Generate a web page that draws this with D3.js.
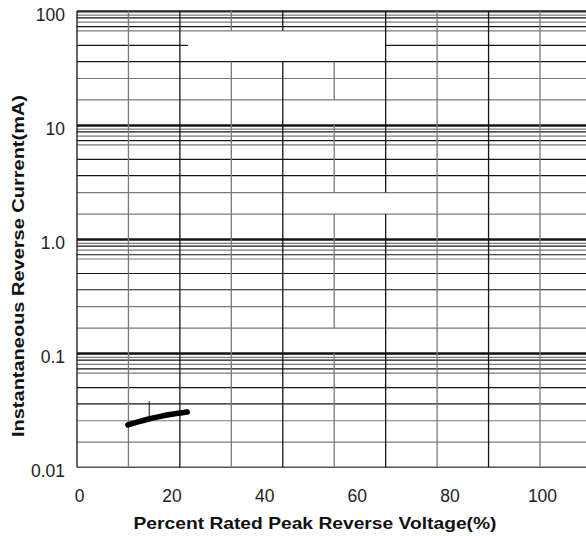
<!DOCTYPE html>
<html>
<head>
<meta charset="utf-8">
<script src="https://cdn.jsdelivr.net/npm/d3@7"></script>
<style>
  html, body { margin: 0; padding: 0; background: #fff; }
  svg { display: block; }
</style>
</head>
<body>
<svg id="chart" width="586" height="536"></svg>
<script>
// ---- data ----
const xTickValues = [0, 20, 40, 60, 80, 100];
const yTickValues = [100, 10, 1, 0.1, 0.01];
const yTickLabels = ["100", "10", "1.0", "0.1", "0.01"];
const decades = [0.01, 0.1, 1, 10, 100];
const minorMultipliers = [1.66, 2.56, 3.6, 5.0, 6.7, 7.3, 8.0, 8.7, 9.2, 9.8];
const verticalGridCount = 10;            // columns of the chart grid (0..100 split in 9)
const curveX = [11.0, 13.2, 15.5, 17.8, 20.1, 22.0, 23.8];
const curveY = [0.0235, 0.0250, 0.0265, 0.0278, 0.0290, 0.0298, 0.0305];
const markerX = [15.6];
const markerTop = [0.038];
const markerBottom = [0.0265];
// missing pieces of the printed grid (scan artefacts), in data units
const verticalGaps = [
  { k: 3, from: 36, to: 67 },
  { k: 4, from: 36, to: 67 },
  { k: 5, from: 36, to: 100 },
  { k: 5, from: 10, to: 16.6 },
  { k: 5, from: 1.66, to: 2.56 },
  { k: 6, from: 1.66, to: 2.56 },
  { k: 5, from: 0.1, to: 0.166 }
];
const horizontalGaps = [
  { v: 50, from: 24, to: 66.67 }
];
const xTitle = "Percent Rated Peak Reverse Voltage(%)";
const yTitle = "Instantaneous Reverse Current(mA)";

// ---- scales ----
const svg = d3.select("#chart");
const W = 586;
const x = d3.scaleLinear().domain([0, 100]).range([77, 540]);
const y = d3.scaleLog().domain([0.01, 100]).range([467.3, 11]);
const xMax = x.invert(W + 2);

const BLACK = "#151515", GRAY = "#7a7a7a";
const minorShade = [GRAY, GRAY, BLACK, BLACK, GRAY, BLACK, GRAY, BLACK, GRAY, BLACK];

const grid = svg.append("g").attr("class", "grid");

function segments(lo, hi, gaps) {
  let segs = [[lo, hi]];
  gaps.forEach(g => {
    const out = [];
    segs.forEach(([a, b]) => {
      if (g.to <= a || g.from >= b) { out.push([a, b]); return; }
      if (g.from > a) out.push([a, g.from]);
      if (g.to < b) out.push([g.to, b]);
    });
    segs = out;
  });
  return segs;
}

// horizontal lines
const hLines = [];
decades.forEach((d, i) => {
  hLines.push({ v: d, major: true, color: (d === 0.01 ? "#555" : BLACK) });
  if (i < decades.length - 1) {
    minorMultipliers.forEach((m, j) => hLines.push({ v: d * m, major: false, color: minorShade[j] }));
  }
});
hLines.forEach(h => {
  const gaps = horizontalGaps.filter(g => Math.abs(g.v - h.v) < 1e-9);
  segments(0, xMax, gaps).forEach(([a, b]) => {
    grid.append("line")
      .attr("x1", x(a)).attr("x2", x(b))
      .attr("y1", y(h.v)).attr("y2", y(h.v))
      .attr("stroke", h.color)
      .attr("stroke-width", h.major ? (h.v === 100 || h.v === 0.01 ? 1.4 : 1.8) : 1.2);
  });
});

// vertical lines
d3.range(verticalGridCount).forEach(k => {
  const xv = k * 100 / 9;
  const gaps = verticalGaps.filter(g => g.k === k);
  segments(0.01, 100, gaps).forEach(([a, b]) => {
    grid.append("line")
      .attr("x1", x(xv)).attr("x2", x(xv))
      .attr("y1", y(a)).attr("y2", y(b))
      .attr("stroke", k % 2 === 0 ? BLACK : GRAY)
      .attr("stroke-width", 1.3);
  });
});

// marker tick
markerX.forEach((mx, i) => {
  svg.append("line")
    .attr("x1", x(mx)).attr("x2", x(mx))
    .attr("y1", y(markerTop[i])).attr("y2", y(markerBottom[i]))
    .attr("stroke", BLACK).attr("stroke-width", 1);
});

// curve
const pts = curveX.map((v, i) => [v, curveY[i]]);
svg.append("path")
  .datum(pts)
  .attr("fill", "none")
  .attr("stroke", "#000")
  .attr("stroke-width", 5.5)
  .attr("stroke-linecap", "round")
  .attr("d", d3.line().x(d => x(d[0])).y(d => y(d[1])).curve(d3.curveMonotoneX));

// tick labels
const tickFont = "'Liberation Sans', Arial, sans-serif";
svg.append("g").selectAll("text")
  .data(xTickValues).join("text")
  .attr("x", d => x(d) + 2.5)
  .attr("y", 501.5)
  .attr("text-anchor", "middle")
  .attr("font-family", tickFont)
  .attr("font-size", 17.5)
  .attr("fill", "#222")
  .text(d => d);

svg.append("g").selectAll("text")
  .data(yTickValues).join("text")
  .attr("x", 65)
  .attr("y", d => y(d) + 9.5)
  .attr("text-anchor", "end")
  .attr("font-family", tickFont)
  .attr("font-size", 17.5)
  .attr("fill", "#222")
  .text((d, i) => yTickLabels[i]);

// axis titles
svg.append("text")
  .attr("x", 315).attr("y", 529)
  .attr("text-anchor", "middle")
  .attr("font-family", "'Liberation Sans', Arial, sans-serif")
  .attr("font-weight", "bold")
  .attr("font-size", 16.5)
  .attr("textLength", 363)
  .attr("lengthAdjust", "spacingAndGlyphs")
  .attr("fill", "#111")
  .text(xTitle);

svg.append("text")
  .attr("transform", "translate(23.5,266) rotate(-90)")
  .attr("text-anchor", "middle")
  .attr("font-family", "'Liberation Sans', Arial, sans-serif")
  .attr("font-weight", "bold")
  .attr("font-size", 16.5)
  .attr("textLength", 342)
  .attr("lengthAdjust", "spacingAndGlyphs")
  .attr("fill", "#111")
  .text(yTitle);
</script>
</body>
</html>
